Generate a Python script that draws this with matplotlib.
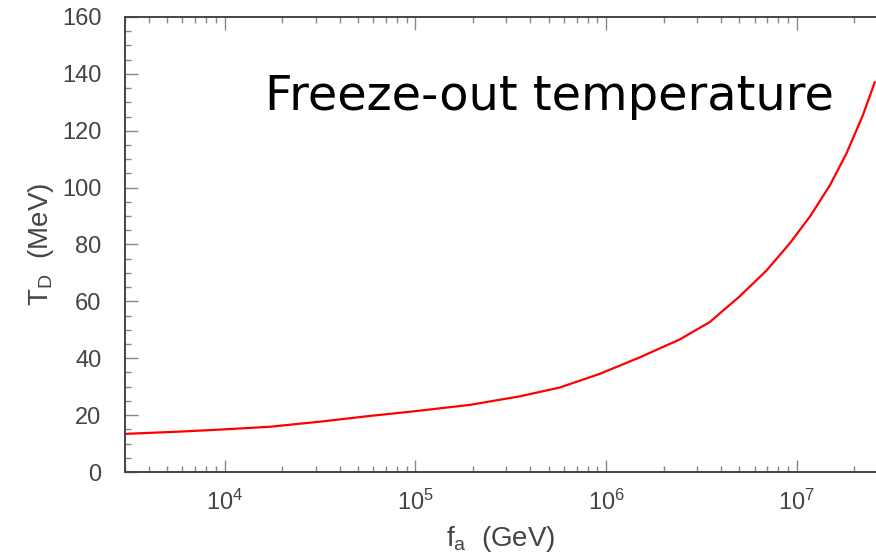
import matplotlib
matplotlib.use('Agg')
import matplotlib.pyplot as plt
from matplotlib.ticker import LogLocator, MultipleLocator, NullFormatter

# values
fa = [3.0e3, 5.8e3, 1.0e4, 1.72e4, 3.16e4, 5.75e4, 1.0e5, 1.93e5, 3.52e5,
      5.71e5, 9.25e5, 1.50e6, 2.43e6, 3.49e6, 5.02e6, 6.92e6, 9.18e6,
      1.17e7, 1.49e7, 1.82e7, 2.22e7, 2.56e7]
td = [13.4, 14.2, 15.0, 15.9, 17.7, 19.7, 21.4, 23.6, 26.6,
      29.7, 34.5, 40.3, 46.6, 52.7, 61.8, 70.8, 80.4,
      89.8, 100.8, 112.0, 125.5, 137.0]

GRAY = '#444444'

fig = plt.figure(figsize=(8.76, 5.57), dpi=100)
ax = fig.add_axes([0.1427, 0.1526, 0.8573, 0.8169])

ax.plot(fa, td, color='red', lw=1.6)

ax.set_xscale('log')
ax.set_xlim(3.0e3, 2.6e7)
ax.set_ylim(0, 160)

ax.xaxis.set_major_locator(LogLocator(base=10, numticks=10))
ax.xaxis.set_minor_locator(LogLocator(base=10, subs=range(2, 10), numticks=20))
ax.xaxis.set_minor_formatter(NullFormatter())
ax.yaxis.set_major_locator(MultipleLocator(20))
ax.yaxis.set_minor_locator(MultipleLocator(5))

for side in ['left', 'bottom', 'top']:
    ax.spines[side].set_color(GRAY)
    ax.spines[side].set_linewidth(1.4)
ax.spines['right'].set_visible(False)

ax.tick_params(which='both', direction='in', top=True, right=False,
               color='#888888', width=1.0)
ax.tick_params(which='major', length=9)
ax.tick_params(which='minor', length=4)
ax.tick_params(axis='both', labelsize=17, labelcolor=GRAY)
ax.tick_params(axis='x', pad=13)
ax.tick_params(axis='y', pad=17)
for lab in ax.get_xticklabels() + ax.get_yticklabels():
    lab.set_family('Liberation Sans')

ax.set_xlabel(r'f$_{\mathregular{a}}$  (GeV)', fontsize=20, color=GRAY,
              family='Liberation Sans', labelpad=6)
ax.set_ylabel(r'T$_{\mathregular{D}}$  (MeV)', fontsize=20, color=GRAY,
              family='Liberation Sans', labelpad=4)

ax.text(0.186, 0.7956, 'Freeze-out temperature', transform=ax.transAxes,
        fontsize=34.5, color='black', family='DejaVu Sans', va='baseline')

fig.savefig('out.png', dpi=100)
